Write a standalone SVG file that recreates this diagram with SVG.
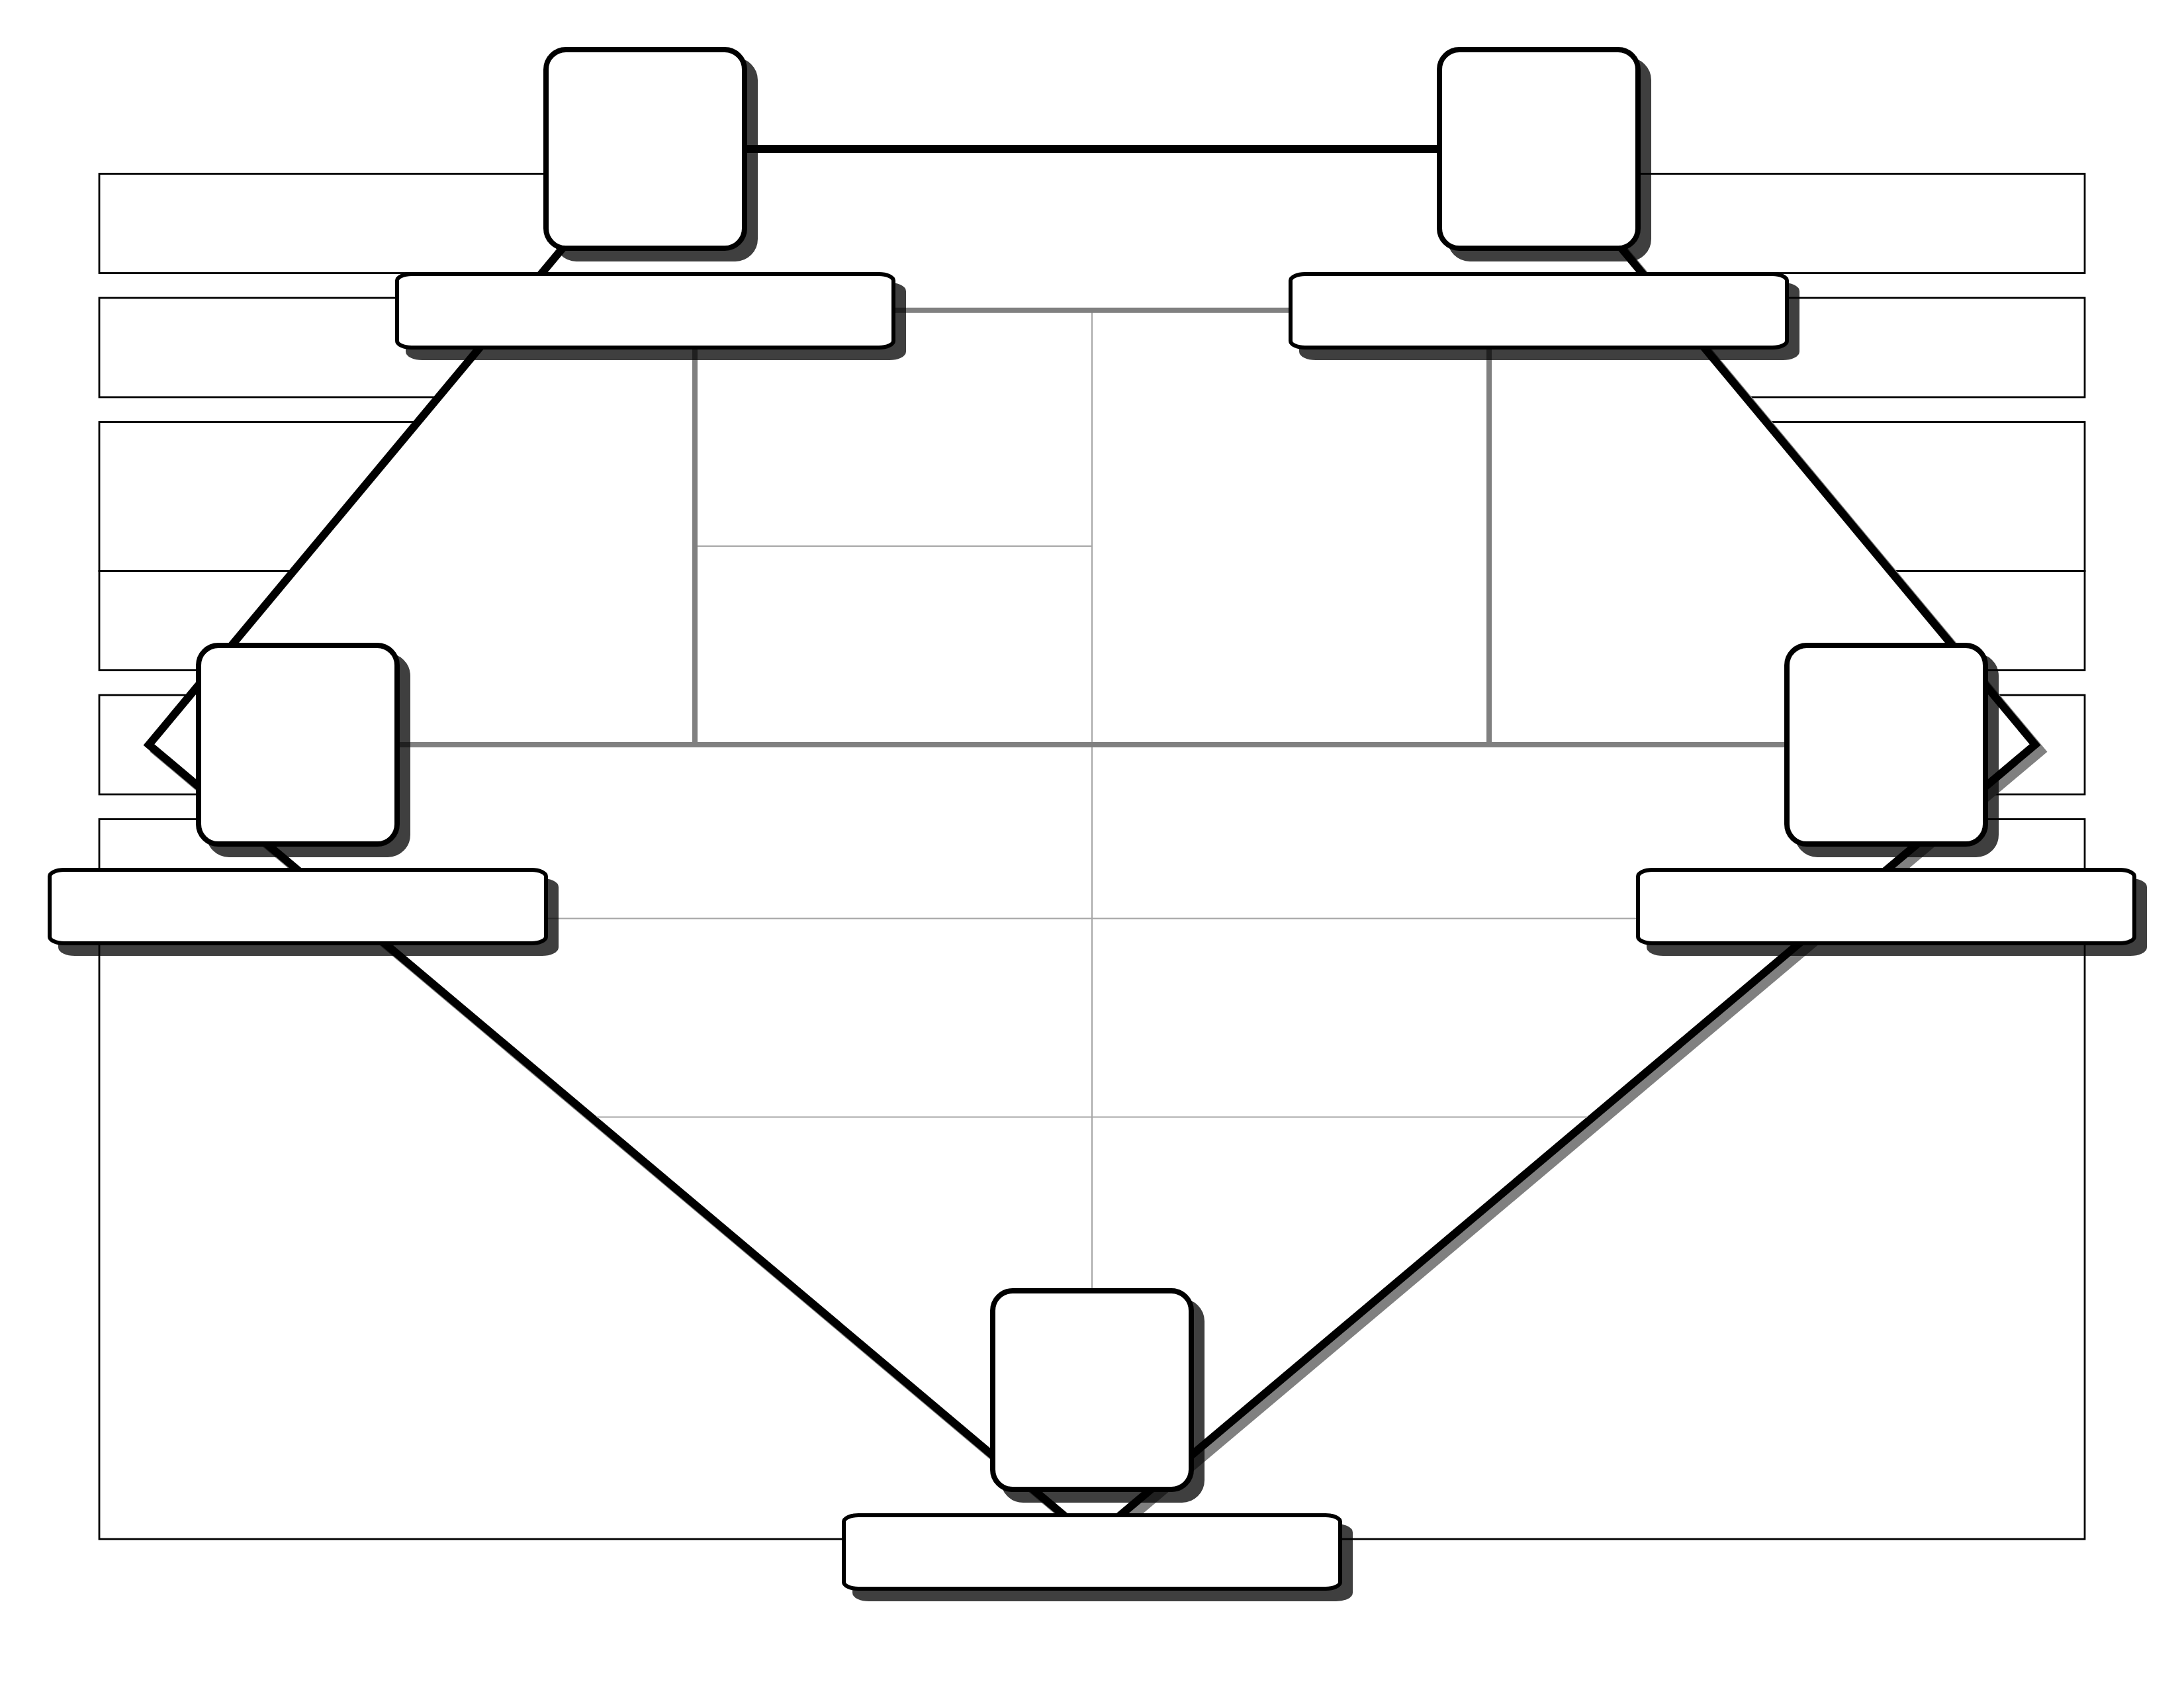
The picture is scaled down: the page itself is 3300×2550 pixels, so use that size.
<svg xmlns="http://www.w3.org/2000/svg" width="3300" height="2550" viewBox="0 0 3300 2550">
<defs>
<style>
.bg{fill:none;stroke:#000;stroke-width:2.8}
.polyshadow{fill:#808080;stroke:#808080;stroke-width:12;stroke-linejoin:miter;stroke-miterlimit:10}
.poly{fill:#fff;stroke:#000;stroke-width:12;stroke-linejoin:miter;stroke-miterlimit:10}
.thick{fill:none;stroke:#808080;stroke-width:8}
.thin{fill:none;stroke:#a6a6a6;stroke-width:2}
.box{fill:#fff;stroke:#000;stroke-width:8}
.boxshadow{fill:#000;stroke:#000;stroke-width:8;opacity:0.75}
.lbl{fill:#fff;stroke:#000;stroke-width:6}
.lblshadow{fill:#000;stroke:#000;stroke-width:6;opacity:0.75}
</style>
</defs>
<rect width="3300" height="2550" fill="#fff"/>
<g id="background">
<rect class="bg" x="150" y="262.5" width="3000" height="150"/>
<rect class="bg" x="150" y="450" width="3000" height="150"/>
<rect class="bg" x="150" y="637.5" width="3000" height="225"/>
<rect class="bg" x="150" y="862.5" width="3000" height="150"/>
<rect class="bg" x="150" y="1050" width="3000" height="150"/>
<rect class="bg" x="150" y="1237.5" width="3000" height="1087.5"/>
</g>
<g id="connectors">
<path class="polyshadow" transform="translate(10,10)" d="M975,225 L2325,225 L3075,1125 L1650,2325 L225,1125 Z"/>
<path class="poly" d="M975,225 L2325,225 L3075,1125 L1650,2325 L225,1125 Z"/>
<path class="thin" d="M1650,468.75 V2100 M1050,825 H1650 M825,1387.5 H2475 M902,1687.5 H2398"/>
<path class="thick" d="M975,468.75 H2325 M1050,468.75 V1125 M2250,468.75 V1125 M450,1125 H2850"/>
</g>
<g id="node-top-left">
<rect class="boxshadow" x="841" y="91" width="300" height="300" rx="30" ry="30"/>
<rect class="box" x="825" y="75" width="300" height="300" rx="30" ry="30"/>
<rect class="lblshadow" x="616" y="430" width="750" height="111" rx="22" ry="10"/>
<rect class="lbl" x="600" y="414" width="750" height="111" rx="22" ry="10"/>
</g>
<g id="node-top-right">
<rect class="boxshadow" x="2191" y="91" width="300" height="300" rx="30" ry="30"/>
<rect class="box" x="2175" y="75" width="300" height="300" rx="30" ry="30"/>
<rect class="lblshadow" x="1966" y="430" width="750" height="111" rx="22" ry="10"/>
<rect class="lbl" x="1950" y="414" width="750" height="111" rx="22" ry="10"/>
</g>
<g id="node-left">
<rect class="boxshadow" x="316" y="991" width="300" height="300" rx="30" ry="30"/>
<rect class="box" x="300" y="975" width="300" height="300" rx="30" ry="30"/>
<rect class="lblshadow" x="91" y="1330" width="750" height="111" rx="22" ry="10"/>
<rect class="lbl" x="75" y="1314" width="750" height="111" rx="22" ry="10"/>
</g>
<g id="node-right">
<rect class="boxshadow" x="2716" y="991" width="300" height="300" rx="30" ry="30"/>
<rect class="box" x="2700" y="975" width="300" height="300" rx="30" ry="30"/>
<rect class="lblshadow" x="2491" y="1330" width="750" height="111" rx="22" ry="10"/>
<rect class="lbl" x="2475" y="1314" width="750" height="111" rx="22" ry="10"/>
</g>
<g id="node-bottom">
<rect class="boxshadow" x="1516" y="1966" width="300" height="300" rx="30" ry="30"/>
<rect class="box" x="1500" y="1950" width="300" height="300" rx="30" ry="30"/>
<rect class="lblshadow" x="1291" y="2305" width="750" height="111" rx="22" ry="10"/>
<rect class="lbl" x="1275" y="2289" width="750" height="111" rx="22" ry="10"/>
</g>
</svg>
